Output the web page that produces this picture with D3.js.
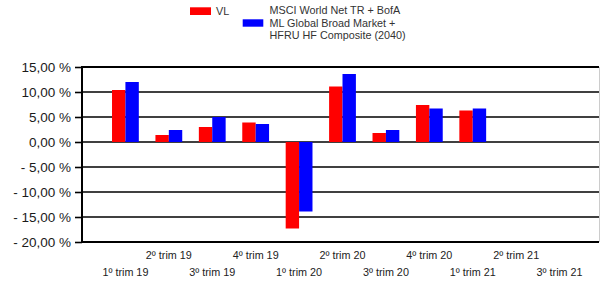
<!DOCTYPE html>
<html><head><meta charset="utf-8">
<script src="https://cdn.jsdelivr.net/npm/d3@7"></script>
<style>body{margin:0;background:#fff}svg{display:block;font-family:"Liberation Sans",Arial,sans-serif}</style>
</head><body><svg id="c" width="600" height="281"></svg>
<script>
const categories = ["1º trim 19","2º trim 19","3º trim 19","4º trim 19","1º trim 20","2º trim 20","3º trim 20","4º trim 20","1º trim 21","2º trim 21","3º trim 21"];
const seriesNames = ["VL","MSCI World Net TR + BofA|ML Global Broad Market +|HFRU HF Composite (2040)"];
const vlValues = [10.4, 1.4, 3.0, 3.9, -17.3, 11.1, 1.8, 7.4, 6.3, null, null];
const benchValues = [12.0, 2.4, 5.0, 3.6, -13.9, 13.6, 2.4, 6.7, 6.7, null, null];
const yTicks = [15, 10, 5, 0, -5, -10, -15, -20];
const colors = ["#ff0000", "#0000ff"];

const svg = d3.select("#c");
const L = 82, R = 603, T = 67, B = 242;
const y = d3.scaleLinear().domain([-20, 15]).range([B, T]);
const x = d3.scalePoint().domain(categories).range([L, R]).padding(1);
const bw = 13.4;

// gridlines
svg.append("g").selectAll("line").data(yTicks).join("line")
  .attr("x1", L).attr("x2", 599).attr("y1", d => y(d)).attr("y2", d => y(d))
  .attr("stroke", "#000").attr("stroke-width", d => (d === 15 || d === -20) ? 2.2 : 1.6);
svg.append("line").attr("x1", 599.5).attr("x2", 599.5).attr("y1", T).attr("y2", B).attr("stroke", "#ccc").attr("stroke-width", 1);

// y axis
const fmt = d => (d < 0 ? "-\u00a0" : "") + d3.format(".2f")(Math.abs(d)).replace(".", ",") + "\u00a0%";
const ya = d3.axisLeft(y).tickValues(yTicks).tickFormat(fmt).tickSize(7).tickPadding(4);
const yg = svg.append("g").attr("transform", `translate(${L},0)`).call(ya);
yg.select(".domain").remove();
yg.attr("font-family", null).attr("font-size", null);
yg.selectAll(".tick line").attr("stroke", "#000").attr("stroke-width", 1.6);
yg.selectAll(".tick text").attr("fill", "#1a1a1a").style("font-size", "13.5px");
svg.append("line").attr("x1", L).attr("x2", L).attr("y1", T - 1).attr("y2", B + 1).attr("stroke", "#000").attr("stroke-width", 2);

// bars
const series = [vlValues, benchValues];
series.forEach((vals, s) => {
  svg.append("g").selectAll("rect").data(categories.map((c, i) => ({c, v: vals[i]})).filter(d => d.v != null))
    .join("rect")
    .attr("x", d => x(d.c) - bw + s * bw)
    .attr("width", bw)
    .attr("y", d => y(Math.max(0, d.v)))
    .attr("height", d => Math.abs(y(d.v) - y(0)))
    .attr("fill", colors[s]);
});

// x labels (staggered)
svg.append("g").selectAll("text").data(categories).join("text")
  .attr("x", d => x(d))
  .attr("y", (d, i) => i % 2 === 1 ? 259 : 276)
  .attr("text-anchor", "middle")
  .attr("fill", "#222")
  .style("font-size", "10.8px")
  .text(d => d);

// legend
const lg = svg.append("g");
lg.append("rect").attr("x", 190).attr("y", 7.3).attr("width", 21).attr("height", 7.7).attr("fill", colors[0]);
lg.append("text").attr("x", 216).attr("y", 14.5).attr("fill", "#333").style("font-size", "10.8px").text(seriesNames[0]);
lg.append("rect").attr("x", 242.7).attr("y", 19.3).attr("width", 20.6).attr("height", 7.4).attr("fill", colors[1]);
lg.append("text").attr("x", 269.5).attr("y", 0).attr("fill", "#333").style("font-size", "10.8px")
  .selectAll("tspan").data(seriesNames[1].split("|")).join("tspan")
  .attr("x", 269.5).attr("y", (d, i) => 14.3 + i * 12.3).text(d => d);
</script></body></html>
